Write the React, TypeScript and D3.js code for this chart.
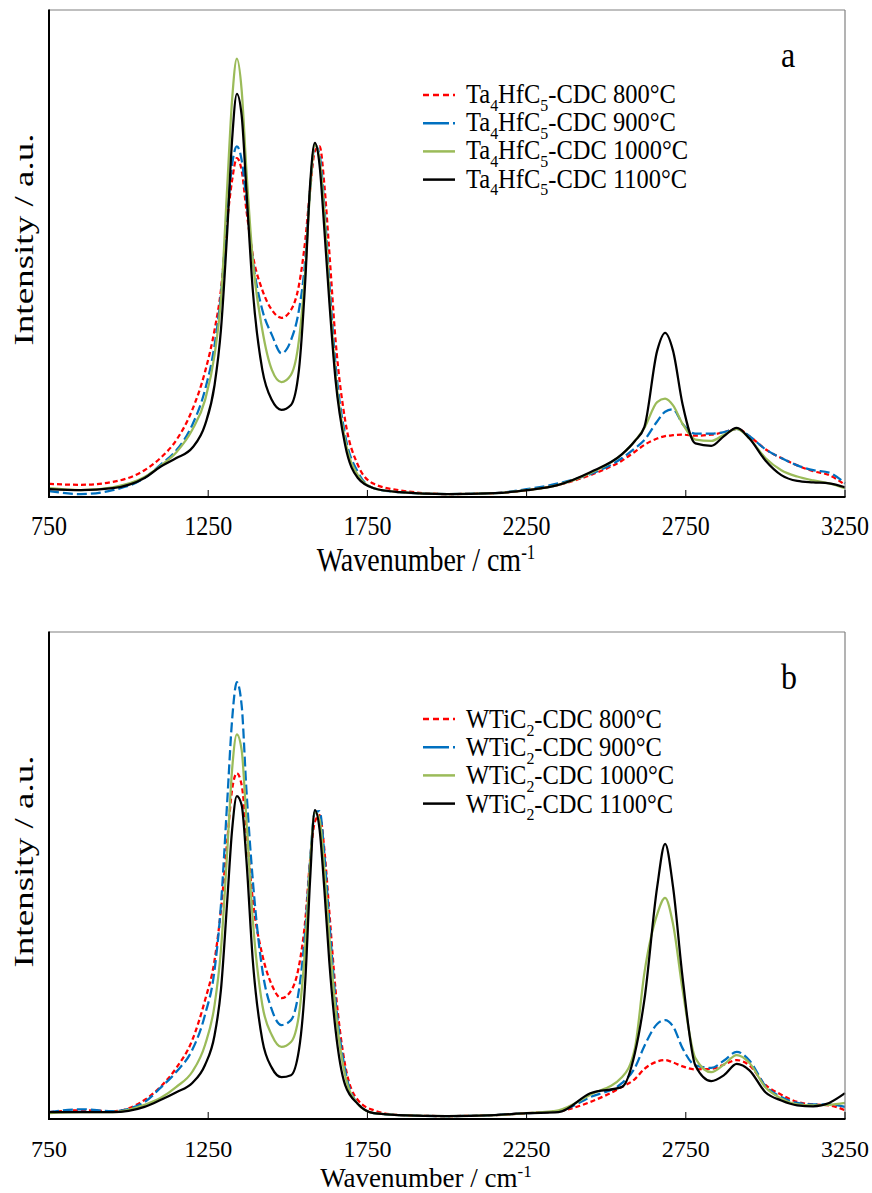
import React from 'react';
import * as d3 from 'd3';

const WAVENUMBERS = [750, 850, 950, 1050, 1100, 1150, 1200, 1240, 1270, 1290, 1310, 1325, 1340, 1355, 1370, 1390, 1420, 1450, 1480, 1510, 1535, 1555, 1570, 1585, 1600, 1615, 1630, 1650, 1680, 1720, 1770, 1850, 2000, 2150, 2250, 2350, 2450, 2550, 2590, 2620, 2660, 2685, 2710, 2740, 2780, 2830, 2870, 2910, 2950, 3000, 3050, 3100, 3150, 3200, 3250];

const X_TICKS = [750, 1250, 1750, 2250, 2750, 3250];

// Panel a: Ta4HfC5-CDC
const A_800 = [2.7, 2.5, 3.1, 5.5, 8.0, 11.7, 17.9, 25.7, 34.3, 42.5,
  56.9, 65.0, 69.6, 67.1, 58.9, 49.7, 42.5, 38.4, 36.8, 38.4,
  43.5, 52.8, 63.0, 71.0, 72.0, 64.0, 50.7, 32.2, 15.8, 6.6,
  2.7, 1.4, 0.6, 0.8, 1.4, 2.5, 4.5, 7.5, 9.3, 10.7,
  12.0, 12.5, 12.7, 12.8, 12.6, 12.8, 13.3, 14.0, 12.5, 9.8,
  8.0, 6.5, 5.3, 4.5, 2.5];
const A_900 = [1.2, 0.6, 1.4, 3.9, 6.6, 9.6, 14.8, 22.0, 31.2, 41.5,
  57.9, 68.2, 72.0, 69.2, 61.0, 48.7, 38.4, 33.3, 29.5, 32.2,
  38.4, 48.7, 63.0, 72.3, 70.2, 59.5, 44.6, 27.1, 12.7, 5.1,
  1.8, 1.0, 0.6, 0.8, 1.6, 2.8, 4.7, 8.0, 10.0, 11.7,
  15.5, 17.5, 18.0, 15.0, 13.0, 13.0, 13.3, 14.0, 12.5, 9.8,
  8.0, 6.5, 5.5, 5.0, 2.8];
const A_1000 = [1.8, 1.4, 2.0, 4.1, 6.4, 9.2, 13.8, 19.9, 29.2, 40.5,
  64.0, 81.5, 90.0, 83.6, 67.1, 48.7, 34.3, 26.1, 23.6, 25.1,
  32.2, 46.6, 63.0, 72.3, 69.2, 57.9, 42.5, 25.1, 11.7, 4.5,
  1.8, 1.0, 0.6, 0.8, 1.4, 2.5, 4.9, 8.8, 11.5, 14.2,
  19.5, 20.2, 18.8, 15.0, 11.8, 11.5, 12.8, 14.0, 12.0, 8.0,
  5.5, 4.2, 3.4, 2.8, 1.8];
const A_1100 = [1.6, 1.4, 1.8, 3.9, 6.2, 8.0, 10.1, 14.8, 23.0, 34.3,
  54.8, 73.3, 82.8, 78.4, 63.0, 42.5, 26.1, 19.9, 17.9, 18.9,
  26.1, 44.6, 64.1, 72.7, 68.0, 54.8, 40.5, 24.0, 10.7, 3.9,
  1.8, 1.0, 0.6, 0.8, 1.4, 2.5, 5.1, 8.8, 11.5, 14.4,
  30.0, 33.7, 30.0, 19.0, 11.0, 10.5, 12.5, 14.2, 12.0, 7.5,
  4.5, 3.3, 3.0, 2.8, 2.0];

// Panel b: WTiC2-CDC
const B_800 = [1.4, 1.8, 1.6, 3.9, 6.6, 10.5, 16.2, 24.4, 32.6, 42.9,
  57.3, 67.6, 71.0, 68.6, 59.3, 45.0, 33.7, 27.5, 24.8, 26.3,
  31.4, 40.9, 53.2, 61.0, 62.4, 55.2, 42.9, 26.5, 11.1, 3.9,
  1.8, 0.8, 0.6, 0.8, 1.2, 1.6, 3.5, 6.6, 8.2, 10.3,
  11.8, 12.1, 11.6, 10.8, 10.2, 10.3, 11.2, 12.1, 11.0, 7.0,
  5.0, 3.5, 3.0, 2.8, 1.8];
const B_900 = [1.4, 2.0, 1.6, 3.5, 6.4, 9.7, 14.2, 21.4, 30.6, 43.9,
  65.5, 81.9, 89.7, 85.0, 67.6, 49.1, 30.6, 22.4, 19.3, 20.3,
  26.5, 38.8, 53.2, 63.0, 63.2, 54.2, 40.9, 24.4, 10.1, 3.1,
  1.2, 0.8, 0.6, 0.8, 1.2, 1.6, 4.5, 7.4, 10.5, 15.0,
  19.5, 20.3, 19.0, 14.5, 11.0, 10.5, 12.0, 13.8, 12.0, 6.8,
  4.5, 3.3, 3.0, 3.0, 2.5];
const B_1000 = [1.2, 1.4, 1.4, 2.9, 4.3, 6.6, 9.7, 15.2, 23.4, 34.7,
  55.2, 71.7, 79.0, 75.8, 61.4, 40.9, 23.4, 17.2, 14.8, 15.8,
  21.4, 35.7, 52.2, 63.0, 61.4, 51.1, 37.8, 22.4, 9.0, 3.1,
  1.2, 0.8, 0.6, 0.8, 1.2, 1.8, 5.0, 8.6, 14.5, 30.0,
  42.0, 45.4, 40.0, 26.5, 12.5, 9.6, 11.2, 13.1, 11.5, 6.5,
  4.2, 3.0, 2.8, 2.9, 3.3];
const B_1100 = [1.4, 1.4, 1.4, 2.5, 3.9, 5.5, 7.4, 11.1, 17.2, 26.5,
  45.0, 59.3, 66.3, 64.5, 53.2, 32.6, 16.2, 10.5, 8.6, 9.0,
  14.2, 28.5, 49.1, 63.4, 59.3, 47.0, 32.6, 18.3, 7.0, 3.1,
  1.2, 0.8, 0.6, 0.8, 1.2, 1.4, 5.3, 6.6, 13.5, 24.5,
  47.6, 56.5, 47.6, 29.0, 11.0, 7.8, 9.0, 11.3, 10.0, 5.5,
  3.8, 2.8, 2.6, 3.3, 5.3];

const TEMPS = ['800°C', '900°C', '1000°C', '1100°C'];
const LABELS_A = TEMPS.map(t => `Ta_4HfC_5-CDC ${t}`);
const LABELS_B = TEMPS.map(t => `WTiC_2-CDC ${t}`);

const STYLES = [
  { color: '#FF0000', dash: '5,3', legendDash: '6,4' },
  { color: '#0070C0', dash: '10,4', legendDash: '26,4,3,4' },
  { color: '#9BBB59', dash: null, legendDash: null },
  { color: '#000000', dash: null, legendDash: null },
];

const FONT = '"Liberation Serif", "Times New Roman", Times, serif';
const LEFT = 49;
const RIGHT = 845;

function RichLabel({ x, y, text, size, stretch }: { x: number; y: number; text: string; size: number; stretch: number }) {
  const parts = text.split(/_(\d)/);
  const nodes: React.ReactNode[] = [];
  let shifted = false;
  parts.forEach((p, i) => {
    if (p === '') return;
    const isSub = i % 2 === 1;
    let dy = 0;
    if (isSub && !shifted) { dy = size * 0.28; shifted = true; }
    else if (!isSub && shifted) { dy = -size * 0.28; shifted = false; }
    nodes.push(
      <tspan key={i} dy={dy || undefined} fontSize={isSub ? size * 0.65 : size}>{p}</tspan>
    );
  });
  return (
    <g transform={`translate(${x}, ${y}) scale(1, ${stretch})`}>
      <text x={0} y={0} fontFamily={FONT} fontSize={size} fill="#000">{nodes}</text>
    </g>
  );
}

function Panel({ top, bottom, series, labels, letter, legendBase, legendLineOff, titleY, titleSize, titleStretch, tickStretch }: any) {
  const x = d3.scaleLinear().domain([750, 3250]).range([LEFT, RIGHT]);
  const y = d3.scaleLinear().domain([0, 100]).range([bottom, top]);
  const line = d3.line<number>()
    .x((_, i) => x(WAVENUMBERS[i]))
    .y(d => y(d))
    .curve(d3.curveMonotoneX);
  const midY = (top + bottom) / 2;
  return (
    <g>
      {series.map((s: number[], i: number) => (
        <path key={i} d={line(s) || ''} fill="none" stroke={STYLES[i].color}
          strokeWidth={2.25} strokeDasharray={STYLES[i].dash || undefined}
          strokeLinejoin="round" />
      ))}
      {/* frame */}
      <line x1={LEFT} x2={RIGHT} y1={top} y2={top} stroke="#808080" strokeWidth={1.2} />
      <line x1={RIGHT} x2={RIGHT} y1={top} y2={bottom} stroke="#808080" strokeWidth={1.2} />
      <line x1={LEFT} x2={LEFT} y1={top - 0.5} y2={bottom + 1} stroke="#000" strokeWidth={2} />
      <line x1={LEFT - 1} x2={RIGHT + 0.5} y1={bottom} y2={bottom} stroke="#000" strokeWidth={2} />
      {X_TICKS.map(t => (
        <g key={t}>
          <line x1={x(t)} x2={x(t)} y1={bottom} y2={bottom - 7} stroke="#000" strokeWidth={1} />
          <g transform={`translate(${x(t)}, ${bottom + 38}) scale(1, ${tickStretch})`}>
            <text x={0} y={0} textAnchor="middle" fontFamily={FONT} fontSize={24} fill="#000">{t}</text>
          </g>
        </g>
      ))}
      <g transform={`translate(426, ${titleY}) scale(1, ${titleStretch})`}>
        <text x={0} y={0} textAnchor="middle" fontFamily={FONT} fontSize={titleSize} fill="#000">
          Wavenumber / cm<tspan fontSize={17} dy={-10}>-1</tspan>
        </text>
      </g>
      <text transform={`translate(33, ${midY - 14}) rotate(-90)`} textAnchor="middle" fontFamily={FONT}
        fontSize={28} fill="#000" textLength={212} lengthAdjust="spacingAndGlyphs">
        Intensity / a.u.
      </text>
      {labels.map((l: string, i: number) => {
        const by = legendBase + i * 28.2;
        return (
          <g key={i}>
            <line x1={423} x2={455} y1={by - legendLineOff} y2={by - legendLineOff} stroke={STYLES[i].color}
              strokeWidth={2.5} strokeDasharray={STYLES[i].legendDash || undefined} />
            <RichLabel x={466} y={by} text={l} size={24.5} stretch={1.1} />
          </g>
        );
      })}
      <g transform={`translate(781, ${top + 57}) scale(1, 1.1)`}>
        <text x={0} y={0} fontFamily={FONT} fontSize={32} fill="#000">{letter}</text>
      </g>
    </g>
  );
}

export default function App() {
  return (
    <svg width={872} height={1193} viewBox="0 0 872 1193"
      style={{ position: 'absolute', left: 0, top: 0, background: '#fff' }}>
      <rect width={872} height={1193} fill="#fff" />
      <Panel top={10} bottom={497} series={[A_800, A_900, A_1000, A_1100]} labels={LABELS_A}
        letter="a" legendBase={103} legendLineOff={8} titleY={571} titleSize={28} titleStretch={1.2} tickStretch={1.15} />
      <Panel top={632} bottom={1119} series={[B_800, B_900, B_1000, B_1100]} labels={LABELS_B}
        letter="b" legendBase={728} legendLineOff={9} titleY={1187} titleSize={27} titleStretch={1.0} tickStretch={1.0} />
    </svg>
  );
}
